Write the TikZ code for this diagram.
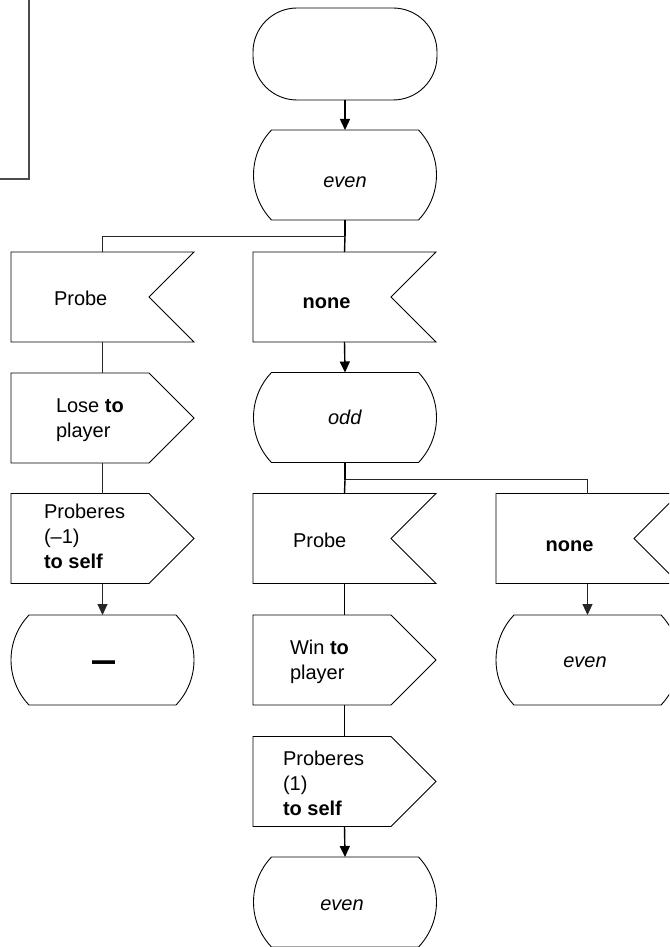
\documentclass[tikz,border=0pt]{standalone}
\usepackage{fontspec}
\setmainfont{Liberation Sans}
\usetikzlibrary{arrows.meta}
\newcommand\stateoutline[1]{%
  \draw[shp] ([xshift=18pt]#1.north west) -- ([xshift=-18pt]#1.north east)
    arc[start angle=43.6,end angle=-43.6,radius=65.25pt]
    -- ([xshift=18pt]#1.south west)
    arc[start angle=223.6,end angle=136.4,radius=65.25pt] -- cycle;}
\newcommand\inputoutline[1]{%
  \draw[shp] (#1.north west) -- (#1.north east) -- ([xshift=-45pt]#1.east)
    -- (#1.south east) -- (#1.south west) -- cycle;}
\newcommand\outputoutline[1]{%
  \draw[shp] (#1.north west) -- ([xshift=-45pt]#1.north east) -- (#1.east)
    -- ([xshift=-45pt]#1.south east) -- (#1.south west) -- cycle;}
\begin{document}
\begin{tikzpicture}[x=1pt,y=1pt,
  box/.style={minimum width=183pt,minimum height=90pt,inner sep=0pt,outer sep=0pt,draw=none},
  shp/.style={draw=black,line width=0.9pt,line join=miter},
  conn/.style={draw=black,line width=1.4pt},
  thinconn/.style={draw=black!85,line width=1pt},
  arr/.style={conn,-{Triangle[width=10pt,length=11pt]}},
  thinarr/.style={thinconn,-{Triangle[width=10pt,length=11pt]}},
  lbl/.style={font=\fontsize{20}{25}\selectfont,inner sep=0pt,outer sep=0pt,align=left},
]
\useasboundingbox (0,0) rectangle (669,-947);
\clip (0,0) rectangle (669,-947);

% partial frame at top left
\draw[draw=black!70,line width=1.6pt] (0,-179) -- (29,-179) -- (29,0);

% start terminal
\node[box,minimum width=184pt,minimum height=92pt,rounded corners=44pt,draw=black,line width=0.9pt] (start) at (345,-54) {};

% shapes
\node[box] (s1) at (345,-175) {};   \stateoutline{s1}
\node[box] (in1) at (102.5,-297) {}; \inputoutline{in1}
\node[box] (in2) at (344.5,-297) {}; \inputoutline{in2}
\node[box] (s2) at (345,-417.5) {};   \stateoutline{s2}
\node[box] (out1) at (102.5,-418) {}; \outputoutline{out1}
\node[box] (out2) at (102.5,-538.5) {}; \outputoutline{out2}
\node[box] (s3) at (102.5,-660) {}; \stateoutline{s3}
\node[box] (in3) at (344.5,-538.5) {}; \inputoutline{in3}
\node[box] (in4) at (587.5,-538.5) {}; \inputoutline{in4}
\node[box] (s4) at (587.5,-660) {}; \stateoutline{s4}
\node[box] (out3) at (344.5,-660) {}; \outputoutline{out3}
\node[box] (out4) at (344.5,-781.5) {}; \outputoutline{out4}
\node[box] (s5) at (345,-902) {};   \stateoutline{s5}

% connectors
\draw[arr] (start.south) -- (s1.north);
\draw[conn] (s1.south) -- ++(0,-16) coordinate (b1);
\draw[thinconn] (b1) -| (in1.north);
\draw[conn] (b1) -- (in2.north);
\draw[arr] (in2.south) -- (s2.north);
\draw[thinconn] (in1.south) -- (out1.north);
\draw[thinconn] (out1.south) -- (out2.north);
\draw[thinarr] (out2.south) -- (s3.north);
\draw[conn] (s2.south) -- ++(0,-17) coordinate (b2);
\draw[thinconn] (b2) -| (in4.north);
\draw[conn] (b2) -- (in3.north);
\draw[thinarr] (in4.south) -- (s4.north);
\draw[conn] (in3.south) -- (out3.north);
\draw[conn] (out3.south) -- (out4.north);
\draw[arr] (out4.south) -- (s5.north);

% labels
\node[lbl,anchor=base] (t1) at (345,-187) {\textit{even}};
\node[lbl,anchor=base west] (t2) at (54,-305) {Probe};
\node[lbl,anchor=base] (t3) at (326.5,-308) {\textbf{none}};
\node[lbl,anchor=base] (t4) at (345,-424) {\textit{odd}};
\node[lbl,anchor=west] (t5) at (56,-420) {Lose \textbf{to}\\player};
\node[lbl,anchor=west] (t6) at (44,-536.7) {Proberes\\(–1)\\\textbf{to self}};
\node[lbl,anchor=center,font=\fontsize{23}{23}\bfseries\selectfont] (t7) at (103.5,-667) {\scalebox{1}[1.6]{—}};
\node[lbl,anchor=base west] (t8) at (293,-547) {Probe};
\node[lbl,anchor=base] (t9) at (569.5,-551) {\textbf{none}};
\node[lbl,anchor=west] (t10) at (290,-662.3) {Win \textbf{to}\\player};
\node[lbl,anchor=base] (t11) at (585,-667) {\textit{even}};
\node[lbl,anchor=west] (t12) at (283,-783.2) {Proberes\\(1)\\\textbf{to self}};
\node[lbl,anchor=base] (t13) at (342,-910) {\textit{even}};
\end{tikzpicture}
\end{document}
